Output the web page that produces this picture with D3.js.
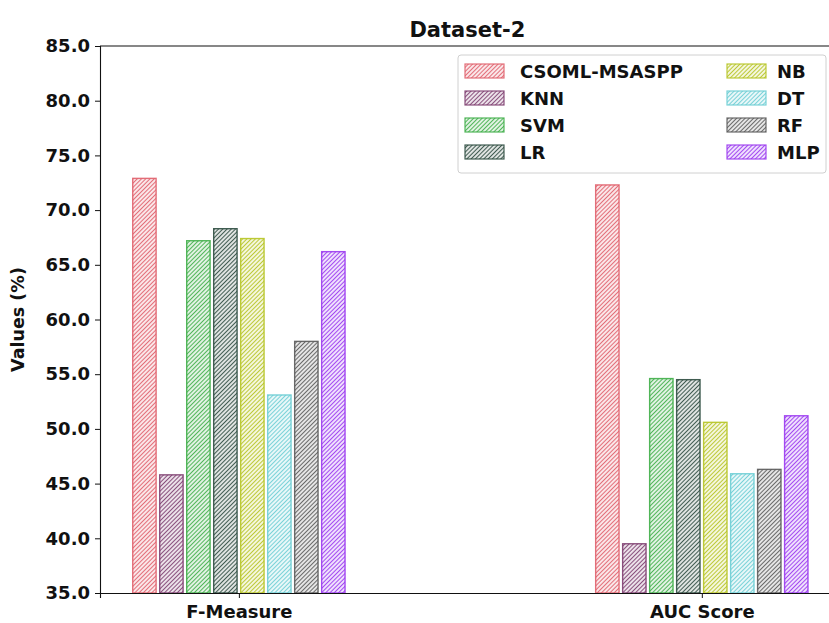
<!DOCTYPE html>
<html>
<head>
<meta charset="utf-8">
<script src="https://cdn.jsdelivr.net/npm/d3@7/dist/d3.min.js"></script>
<style>
  html, body { margin: 0; padding: 0; background: #fff; }
  svg { display: block; font-family: "DejaVu Sans", sans-serif; }
</style>
</head>
<body>
<svg id="chart" width="829" height="623"></svg>
<script>
// Metrics shown on the x axis
const categories = ["F-Measure", "AUC Score"];
// Compared models
const models = ["CSOML-MSASPP", "KNN", "SVM", "LR", "NB", "DT", "RF", "MLP"];
// Scores per model (F-Measure, AUC Score)
const csomlValues = [72.9, 72.3];
const knnValues   = [45.8, 39.5];
const svmValues   = [67.2, 54.6];
const lrValues    = [68.3, 54.5];
const nbValues    = [67.4, 50.6];
const dtValues    = [53.1, 45.9];
const rfValues    = [58.0, 46.3];
const mlpValues   = [66.2, 51.2];
const yTicks = [35, 40, 45, 50, 55, 60, 65, 70, 75, 80, 85];

const seriesValues = [csomlValues, knnValues, svmValues, lrValues, nbValues, dtValues, rfValues, mlpValues];
const colors = ["#e0606c", "#7e3e70", "#3fae48", "#2e4c40", "#b6c424", "#6ccdd4", "#5a5a5a", "#9a38f0"];

const svg = d3.select("#chart");
const margin = { left: 100, top: 46, bottom: 593 };
const axRight = 840.7;
const FONT = "DejaVu Sans";

const x = d3.scaleLinear().domain([-0.3, 1.3]).range([margin.left, axRight]);
const y = d3.scaleLinear().domain([35, 85]).range([margin.bottom, margin.top]);

// Offsets of each model's bar inside a group, in data units
const step = 0.0583;
const barW = 0.0505;
const offset = d3.scaleLinear().domain([0, models.length - 1]).range([-3.5 * step, 3.5 * step]);

// Diagonal hatch patterns
const defs = svg.append("defs");
const hs = 3;
colors.forEach((c, i) => {
  const p = defs.append("pattern")
    .attr("id", "hatch" + i)
    .attr("patternUnits", "userSpaceOnUse")
    .attr("width", hs).attr("height", hs)
    .attr("patternTransform", "rotate(45)");
  p.append("rect").attr("width", hs).attr("height", hs).attr("fill", "#fff");
  p.append("line")
    .attr("x1", hs / 2).attr("y1", 0).attr("x2", hs / 2).attr("y2", hs)
    .attr("stroke", c).attr("stroke-width", 1.35).attr("stroke-opacity", 0.9);
});

// Bars
const barData = [];
models.forEach((m, i) => {
  categories.forEach((cat, j) => {
    barData.push({ model: m, i, j, value: seriesValues[i][j] });
  });
});

svg.append("g").selectAll("rect")
  .data(barData)
  .join("rect")
  .attr("x", d => x(d.j + offset(d.i) - barW / 2))
  .attr("width", d => x(barW) - x(0))
  .attr("y", d => y(d.value))
  .attr("height", d => y(35) - y(d.value))
  .attr("fill", d => `url(#hatch${d.i})`)
  .attr("stroke", d => colors[d.i])
  .attr("stroke-opacity", 0.9)
  .attr("stroke-width", 1.4);

// Axes
const yAxis = d3.axisLeft(y).tickValues(yTicks).tickFormat(d3.format(".1f")).tickSize(5).tickPadding(5);
const gy = svg.append("g").attr("transform", `translate(${margin.left},0)`).call(yAxis);

const xAxis = d3.axisBottom(x).tickValues([0, 1]).tickFormat(d => categories[d]).tickSize(5).tickPadding(7);
const gx = svg.append("g").attr("transform", `translate(0,${margin.bottom})`).call(xAxis);

[gx, gy].forEach(g => {
  g.attr("font-family", FONT).attr("font-size", 18).attr("font-weight", "bold");
  g.selectAll(".tick text").attr("fill", "#111");
  g.select(".domain").attr("stroke", "#111").attr("stroke-width", 1.1);
  g.selectAll(".tick line").attr("stroke", "#111");
});

// Top spine
svg.append("line")
  .attr("x1", margin.left).attr("x2", axRight)
  .attr("y1", margin.top).attr("y2", margin.top)
  .attr("stroke", "#111").attr("stroke-width", 1.1);

// Title
svg.append("text")
  .attr("x", (margin.left + axRight) / 2 - 3)
  .attr("y", 37)
  .attr("text-anchor", "middle")
  .attr("font-family", FONT)
  .attr("font-size", 21).attr("font-weight", "bold").attr("fill", "#111")
  .text("Dataset-2");

// Y axis label
svg.append("text")
  .attr("transform", `translate(24,${(margin.top + margin.bottom) / 2}) rotate(-90)`)
  .attr("text-anchor", "middle")
  .attr("font-family", FONT)
  .attr("font-size", 17.5).attr("font-weight", "bold").attr("fill", "#111")
  .text("Values (%)");

// Legend
const legend = svg.append("g").attr("font-family", FONT);
legend.append("rect")
  .attr("x", 458).attr("y", 55).attr("width", 368).attr("height", 118)
  .attr("rx", 3).attr("fill", "#fff").attr("fill-opacity", 0.85)
  .attr("stroke", "#d0d0d0").attr("stroke-width", 1);

models.forEach((m, i) => {
  const col = Math.floor(i / 4);
  const row = i % 4;
  const lx = col === 0 ? 465 : 727;
  const ly = 64 + row * 27;
  legend.append("rect")
    .attr("x", lx).attr("y", ly).attr("width", 39).attr("height", 14)
    .attr("fill", `url(#hatch${i})`)
    .attr("stroke", colors[i]).attr("stroke-opacity", 0.9).attr("stroke-width", 1.2);
  legend.append("text")
    .attr("x", col === 0 ? 520 : 777).attr("y", ly + 14)
    .attr("font-size", 18).attr("font-weight", "bold").attr("fill", "#111")
    .text(m);
});
</script>
</body>
</html>
